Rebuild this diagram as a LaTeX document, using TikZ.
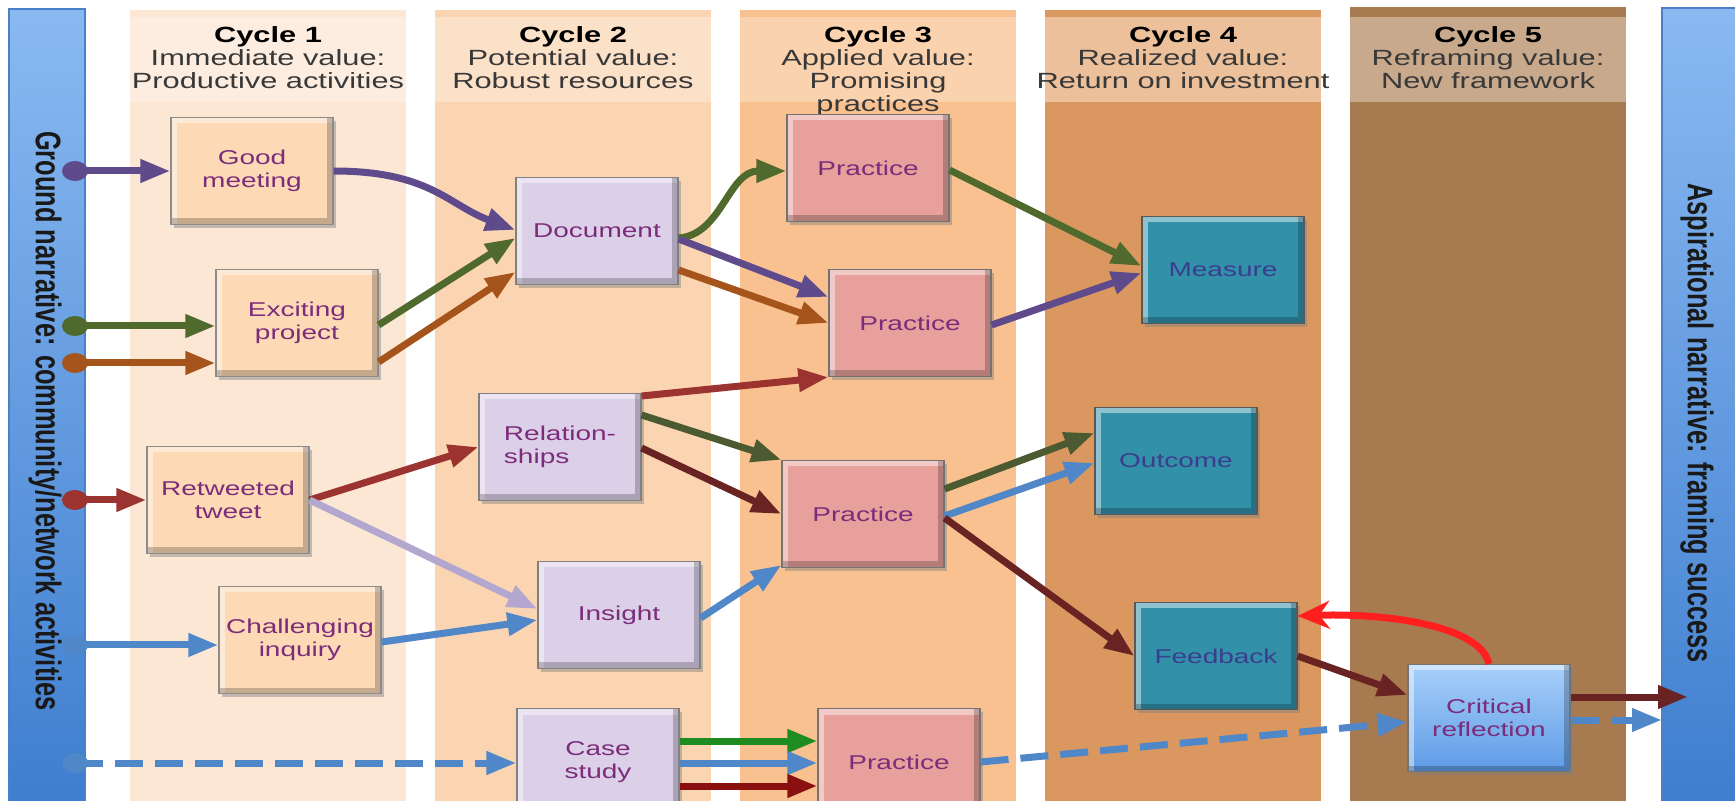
\documentclass[tikz,border=0pt]{standalone}
\usepackage{fontspec}
\setmainfont{Liberation Sans}
\newfontfamily\widefont{Liberation Sans}[FakeStretch=1.4]
\usepackage{graphicx}
\usetikzlibrary{calc, shapes.geometric, arrows.meta, positioning, shadows}

\definecolor{cycA}{HTML}{FCE7D5}
\definecolor{headA}{HTML}{FCEDE0}
\definecolor{cycB}{HTML}{FBD4B1}
\definecolor{headB}{HTML}{FCE1C9}
\definecolor{cycC}{HTML}{F8C18F}
\definecolor{headC}{HTML}{FAD2AD}
\definecolor{cycD}{HTML}{DA9860}
\definecolor{headD}{HTML}{EBC09B}
\definecolor{cycE}{HTML}{A87A4F}
\definecolor{headE}{HTML}{C9A98C}
\definecolor{barTop}{HTML}{8AB9F1}
\definecolor{barBot}{HTML}{3E7ECF}
\definecolor{barLine}{HTML}{4A80C8}
\definecolor{boxA}{HTML}{FDD9B5}
\definecolor{boxB}{HTML}{DCD0E9}
\definecolor{boxC}{HTML}{E7A09C}
\definecolor{boxD}{HTML}{3290A9}
\definecolor{boxEtop}{HTML}{A8D0FA}
\definecolor{boxEbot}{HTML}{5E9BE6}
\definecolor{txtP}{HTML}{7B2C7A}
\definecolor{txtD}{HTML}{3B3D8E}
\definecolor{lpurple}{HTML}{5F4B8B}
\definecolor{lgreen}{HTML}{50692C}
\definecolor{lorange}{HTML}{A5541C}
\definecolor{lred}{HTML}{9B3330}
\definecolor{llav}{HTML}{B3A7D0}
\definecolor{lblue}{HTML}{4F87C9}
\definecolor{lolive}{HTML}{4B5A30}
\definecolor{lmaroon}{HTML}{6A2323}
\definecolor{llime}{HTML}{1F8C22}
\definecolor{lcrimson}{HTML}{8A1010}
\definecolor{lbright}{HTML}{FF1F1F}

\begin{document}
\begin{tikzpicture}[x=0.5pt,y=-0.5pt,
	cyclehead/.style={anchor=north,inner sep=0pt,align=center,text=black!78,font=\widefont\fontsize{11pt}{11.5pt}\selectfont},
	sidetext/.style={rotate=-90,inner sep=0pt,text=black!90,font=\bfseries\fontsize{12.7pt}{15pt}\selectfont},
	bevel/.style={rectangle,draw=#1,line width=0.6pt,minimum width=81pt,minimum height=53.5pt,align=center,
		font=\widefont\fontsize{10pt}{11.5pt}\selectfont,text=txtP,
		drop shadow={opacity=.45,shadow xshift=1.6pt,shadow yshift=-1.6pt},
		path picture={
			\draw[white,opacity=.45,line width=6pt] (path picture bounding box.south west) |- (path picture bounding box.north east);
			\draw[black,opacity=.22,line width=6pt] (path picture bounding box.south west) -| (path picture bounding box.north east);}},
	cyc1/.style={bevel=black!45,fill=boxA},
	cyc2/.style={bevel=black!50,fill=boxB},
	cyc3/.style={bevel=black!55,fill=boxC},
	cyc4/.style={bevel=black!65,fill=boxD,text=txtD},
	cyc5/.style={bevel=black!55,top color=boxEtop,bottom color=boxEbot},
	lanedot/.style={ellipse,fill=#1,inner sep=0pt,minimum width=13pt,minimum height=10pt},
	link/.style={draw=#1,line width=3.5pt,-{Triangle[length=15pt,width=11pt]}},
	dlink/.style={link=#1,dash pattern=on 14pt off 6pt}]

	\useasboundingbox (0,0) rectangle (1735,801);
	\fill[white] (0,0) rectangle (1735,801);

	\fill[cycA] (130,10) rectangle (406,801);
	\fill[headA] (130,17) rectangle (406,102);
	\fill[cycB] (435,10) rectangle (711,801);
	\fill[headB] (435,17) rectangle (711,102);
	\fill[cycC] (740,10) rectangle (1016,801);
	\fill[headC] (740,17) rectangle (1016,102);
	\fill[cycD] (1045,10) rectangle (1321,801);
	\fill[headD] (1045,17) rectangle (1321,102);
	\fill[cycE] (1350,7) rectangle (1626,801);
	\fill[headE] (1350,17) rectangle (1626,102);

	\shade[top color=barTop,bottom color=barBot,draw=barLine,line width=0.8pt] (9,9) rectangle (85,805);
	\shade[top color=barTop,bottom color=barBot,draw=barLine,line width=0.8pt] (1662,8) rectangle (1740,805);

	\node[cyclehead] (head1) at (268,26) {\textcolor{black}{\textbf{Cycle 1}}\\Immediate value:\\Productive activities};
	\node[cyclehead] (head2) at (573,26) {\textcolor{black}{\textbf{Cycle 2}}\\Potential value:\\Robust resources};
	\node[cyclehead] (head3) at (878,26) {\textcolor{black}{\textbf{Cycle 3}}\\Applied value:\\Promising\\practices};
	\node[cyclehead] (head4) at (1183,26) {\textcolor{black}{\textbf{Cycle 4}}\\Realized value:\\Return on investment};
	\node[cyclehead] (head5) at (1488,26) {\textcolor{black}{\textbf{Cycle 5}}\\Reframing value:\\New framework};

	\node[sidetext] (ground) at (45,421) {\scalebox{1}[1.4]{Ground narrative: community/network activities}};
	\node[sidetext] (aspire) at (1697,423) {\scalebox{1}[1.4]{Aspirational narrative: framing success}};

	\node[cyc1] (good) at (252,171) {Good\\meeting};
	\node[cyc1] (exciting) at (297,323) {Exciting\\project};
	\node[cyc1] (retweet) at (228,500) {Retweeted\\tweet};
	\node[cyc1] (inquiry) at (300,640) {Challenging\\inquiry};
	\node[cyc2] (document) at (597,231) {Document};
	\node[cyc2,align=left] (relation) at (560,447) {Relation-\\ships};
	\node[cyc2] (insight) at (619,615) {Insight};
	\node[cyc2] (casestudy) at (598,762) {Case\\study};
	\node[cyc3] (practiceA) at (868,168) {Practice};
	\node[cyc3] (practiceB) at (910,323) {Practice};
	\node[cyc3] (practiceC) at (863,514) {Practice};
	\node[cyc3] (practiceD) at (899,762) {Practice};
	\node[cyc4] (measure) at (1223,270) {Measure};
	\node[cyc4] (outcome) at (1176,461) {Outcome};
	\node[cyc4] (feedback) at (1216,656) {Feedback};
	\node[cyc5] (critical) at (1489,718) {Critical\\reflection};

	\node[lanedot=lpurple] (dot1) at (75,171) {};
	\node[lanedot=lgreen] (dot2) at (75,326) {};
	\node[lanedot=lorange] (dot3) at (75,363) {};
	\node[lanedot=lred] (dot4) at (75,500) {};
	\node[lanedot=lblue] (dot5) at (75,645) {};
	\node[lanedot=lblue] (dot6) at (75,763) {};
	\coordinate (aspA) at (1688,697);
	\coordinate (aspB) at (1662,720);

	\draw[link=lpurple] (dot1.center) -- (dot1.center -| good.west);
	\draw[link=lpurple] (good.east) .. controls +(96,0) and +(-67,-25) .. ($(document.west)+(0,-1)$);
	\draw[link=lgreen] (dot2.center) -- (dot2.center -| exciting.west);
	\draw[link=lorange] (dot3.center) -- (dot3.center -| exciting.west);
	\draw[link=lgreen] ($(exciting.east)+(0,2)$) -- ($(document.west)+(0,7)$);
	\draw[link=lorange] ($(exciting.east)+(0,39)$) -- ($(document.west)+(0,41)$);
	\draw[link=lred] (dot4.center) -- (dot4.center -| retweet.west);
	\draw[link=lred] (retweet.east) -- (relation.west);
	\draw[link=llav] (retweet.east) -- ($(insight.west)+(0,-6)$);
	\draw[link=lblue] (dot5.center) -- (dot5.center -| inquiry.west);
	\draw[link=lblue] ($(inquiry.east)+(0,2)$) -- ($(insight.west)+(0,5)$);
	\draw[dlink=lblue] (dot6.center) -- (dot6.center -| casestudy.west);

	\draw[link=lgreen] ($(document.east)+(0,7)$) .. controls +(43,-3) and +(-58,0) .. ($(practiceA.west)+(0,3)$);
	\draw[link=lpurple] ($(document.east)+(0,8)$) -- ($(practiceB.west)+(0,-26)$);
	\draw[link=lorange] ($(document.east)+(0,39)$) -- (practiceB.west);
	\draw[link=lred] ($(relation.east)+(0,-51)$) -- (practiceB.south west);
	\draw[link=lolive] ($(relation.east)+(0,-32)$) -- (practiceC.north west);
	\draw[link=lmaroon] ($(relation.east)+(0,1)$) -- (practiceC.west);
	\draw[link=lblue] ($(insight.east)+(0,3)$) -- ($(practiceC.west)+(0,51)$);
	\draw[link=llime] ($(casestudy.east)+(0,-21)$) -- ($(practiceD.west)+(0,-21)$);
	\draw[link=lblue] ($(casestudy.east)+(0,1)$) -- ($(practiceD.west)+(0,1)$);
	\draw[link=lcrimson] ($(casestudy.east)+(0,24)$) -- ($(practiceD.west)+(0,24)$);

	\draw[link=lgreen] ($(practiceA.east)+(0,2)$) -- ($(measure.west)+(0,-4)$);
	\draw[link=lpurple] ($(practiceB.east)+(0,2)$) -- ($(measure.west)+(0,3)$);
	\draw[link=lolive] ($(practiceC.east)+(0,-25)$) -- ($(outcome.west)+(0,-28)$);
	\draw[link=lblue] ($(practiceC.east)+(0,2)$) -- ($(outcome.west)+(0,2)$);
	\draw[link=lmaroon] ($(practiceC.east)+(0,4)$) -- (feedback.west);
	\draw[dlink=lblue] (practiceD.east) -- ($(critical.west)+(0,4)$);

	\draw[link=lmaroon] (feedback.east) -- ($(critical.west)+(0,-23)$);
	\draw[link=lbright,-{Stealth[length=16pt,width=14pt]}] (critical.north) .. controls +(-9,-40) and +(82,-3) .. ($(feedback.east)+(0,-40)$);
	\draw[link=lmaroon] ($(critical.east)+(0,-21)$) -- (aspA);
	\draw[dlink=lblue] ($(critical.east)+(0,2)$) -- (aspB);
\end{tikzpicture}
\end{document}
